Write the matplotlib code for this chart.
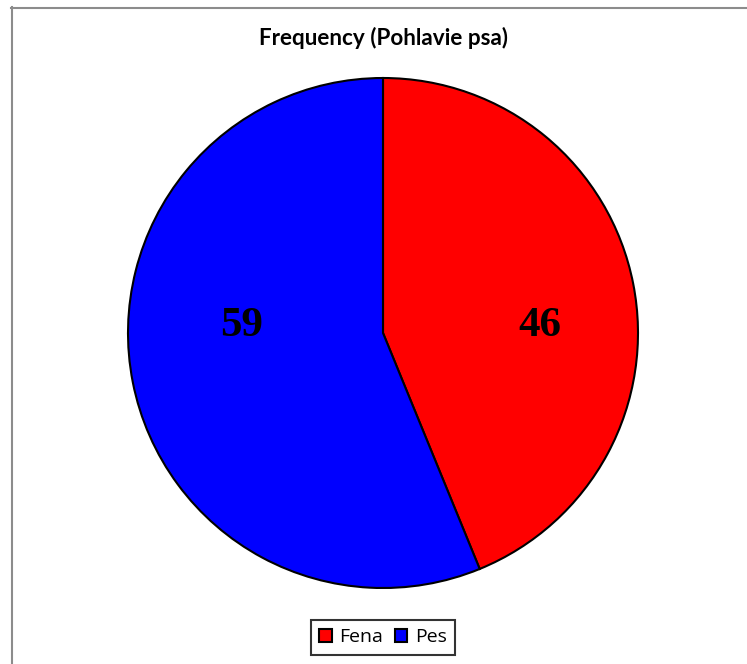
import matplotlib
matplotlib.use("Agg")
import matplotlib.pyplot as plt
from matplotlib.lines import Line2D
from matplotlib.patches import Rectangle

categories = ["Fena", "Pes"]
values = [46, 59]
colors = ["#FF0000", "#0000FF"]
title = "Frequency (Pohlavie psa)"

W, H = 747, 664
fig = plt.figure(figsize=(W / 100, H / 100), dpi=100)
fig.patch.set_facecolor("white")

# figure frame (only top and left visible)
fig.add_artist(Line2D([11 / W, 1.0], [1 - 7.5 / H, 1 - 7.5 / H], color="#8c8c8c", lw=1.5))
fig.add_artist(Line2D([11.5 / W, 11.5 / W], [0, 1 - 7 / H], color="#8c8c8c", lw=1.5))

cx, cy, r = 383, 333, 255
ax = fig.add_axes([(cx - r) / W, 1 - (cy + r) / H, 2 * r / W, 2 * r / H])
wedges, _ = ax.pie(values, colors=colors, startangle=90, counterclock=False,
                   wedgeprops=dict(edgecolor="black", linewidth=1.5))
ax.set_xlim(-1, 1)
ax.set_ylim(-1, 1)
ax.set_aspect("equal")
ax.axis("off")

label_x = [0.615, -0.555]
for v, x in zip(values, label_x):
    ax.text(x, -0.01, str(v), ha="center", va="baseline",
            fontfamily="Liberation Serif", fontweight="bold", fontsize=31)

fig.text(384 / W, 1 - 38 / H, title, ha="center", va="center",
         fontfamily="Lato", fontweight="bold", fontsize=16.2)

handles = [Rectangle((0, 0), 1, 1, facecolor=c, edgecolor="black", lw=1.5) for c in colors]
leg = fig.legend(handles, categories, loc="center", bbox_to_anchor=(383 / W, 1 - 637.5 / H),
                 ncol=2, frameon=True, fancybox=False, handlelength=0.62, handleheight=0.62,
                 handletextpad=0.4, columnspacing=0.6, borderpad=0.45,
                 prop=dict(family="Open Sans", size=14))
leg.get_frame().set_edgecolor("black")
leg.get_frame().set_linewidth(1.5)

fig.savefig("out.png", dpi=100, facecolor="white")
